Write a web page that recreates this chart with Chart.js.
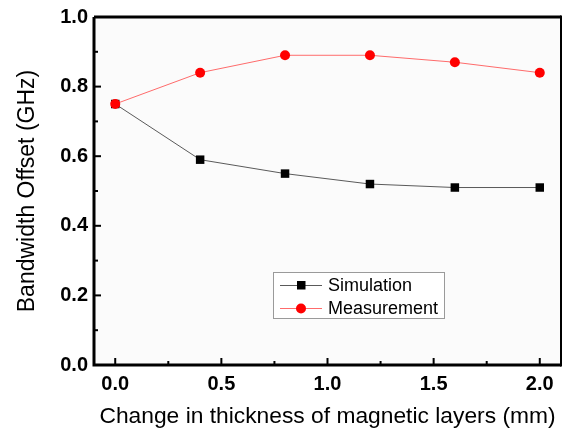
<!DOCTYPE html>
<html>
<head>
<meta charset="utf-8">
<script src="https://cdn.jsdelivr.net/npm/chart.js@4"></script>
<style>
html,body{margin:0;padding:0;background:#fff;}
#c{display:block;}
</style>
</head>
<body>
<canvas id="c" width="567" height="432"></canvas>
<script>
const xValues = [0.0, 0.4, 0.8, 1.2, 1.6, 2.0];
const simulation = [0.75, 0.59, 0.55, 0.52, 0.51, 0.51];
const measurement = [0.75, 0.84, 0.89, 0.89, 0.87, 0.84];
const xTickValues = [0.0, 0.5, 1.0, 1.5, 2.0];
const xMinorTicks = [0.25, 0.75, 1.25, 1.75];
const yTickValues = [0.0, 0.2, 0.4, 0.6, 0.8, 1.0];
const yMinorTicks = [0.1, 0.3, 0.5, 0.7, 0.9];
const seriesNames = ['Simulation', 'Measurement'];
const xTitle = 'Change in thickness of magnetic layers (mm)';
const yTitle = 'Bandwidth Offset (GHz)';

const FONT = '"Liberation Sans", Arial, sans-serif';

const framePlugin = {
  id: 'frame',
  beforeDatasetsDraw(chart) {
    const {ctx, chartArea: a} = chart;
    ctx.save();
    ctx.fillStyle = '#fbfbfb';
    ctx.fillRect(a.left, a.top, a.right - a.left, a.bottom - a.top);
    ctx.restore();
  },
  afterDraw(chart) {
    const {ctx, chartArea: a} = chart;
    const xs = chart.scales.x, ys = chart.scales.y;
    ctx.save();
    ctx.strokeStyle = '#000';
    ctx.lineCap = 'butt';
    ctx.lineWidth = 2;
    const tick = (px, len, vertical) => {
      ctx.beginPath();
      if (vertical) { ctx.moveTo(px, a.bottom); ctx.lineTo(px, a.bottom - len); }
      else { ctx.moveTo(a.left, px); ctx.lineTo(a.left + len, px); }
      ctx.stroke();
    };
    xTickValues.forEach(v => tick(xs.getPixelForValue(v), 7, true));
    xMinorTicks.forEach(v => tick(xs.getPixelForValue(v), 4, true));
    yTickValues.forEach(v => tick(ys.getPixelForValue(v), 7, false));
    yMinorTicks.forEach(v => tick(ys.getPixelForValue(v), 4, false));
    ctx.lineWidth = 3;
    ctx.beginPath();
    ctx.moveTo(a.left, a.top); ctx.lineTo(a.left, a.bottom); ctx.lineTo(a.right, a.bottom);
    ctx.stroke();
    ctx.beginPath();
    ctx.moveTo(a.left, a.top); ctx.lineTo(a.right, a.top);
    ctx.stroke();
    ctx.lineWidth = 2;
    ctx.beginPath();
    ctx.moveTo(a.right, a.top - 1.5); ctx.lineTo(a.right, a.bottom + 1.5);
    ctx.stroke();

    // legend
    const bx = 273, by = 272, bw = 171, bh = 46;
    ctx.fillStyle = '#fff';
    ctx.fillRect(bx, by, bw, bh);
    ctx.strokeStyle = '#9a9a9a';
    ctx.lineWidth = 1;
    ctx.strokeRect(bx + 0.5, by + 0.5, bw, bh);
    const rows = [285, 308];
    chart.data.datasets.forEach((ds, i) => {
      const y = rows[i];
      ctx.strokeStyle = ds.borderColor;
      ctx.lineWidth = 1;
      ctx.beginPath(); ctx.moveTo(280, y + 0.5); ctx.lineTo(322, y + 0.5); ctx.stroke();
      ctx.fillStyle = ds.pointBackgroundColor;
      if (ds.pointStyle === 'rect') {
        ctx.fillRect(297, y - 4, 8.5, 8.5);
      } else {
        ctx.beginPath(); ctx.arc(301, y + 0.5, 5, 0, Math.PI * 2); ctx.fill();
      }
      ctx.fillStyle = '#000';
      ctx.font = '18px ' + FONT;
      ctx.textBaseline = 'middle';
      ctx.textAlign = 'left';
      ctx.fillText(ds.label, 328, y + 1);
    });
    ctx.restore();
  }
};

new Chart(document.getElementById('c'), {
  type: 'line',
  data: {
    datasets: [
      {
        label: seriesNames[0],
        data: xValues.map((x, i) => ({x: x, y: simulation[i]})),
        borderColor: '#5a5a5a',
        borderWidth: 1,
        pointStyle: 'rect',
        pointRadius: 6,
        pointBackgroundColor: '#000000',
        pointBorderColor: '#000000',
        pointBorderWidth: 0,
        tension: 0,
        order: 2
      },
      {
        label: seriesNames[1],
        data: xValues.map((x, i) => ({x: x, y: measurement[i]})),
        borderColor: '#ff6b6b',
        borderWidth: 1,
        pointStyle: 'circle',
        pointRadius: 5,
        pointBackgroundColor: '#ff0000',
        pointBorderColor: '#ff0000',
        pointBorderWidth: 0,
        tension: 0,
        order: 1
      }
    ]
  },
  options: {
    responsive: false,
    animation: false,
    devicePixelRatio: 1,
    layout: {padding: {top: 17, right: -1, left: 0, bottom: 0}},
    plugins: {legend: {display: false}, tooltip: {enabled: false}},
    scales: {
      x: {
        type: 'linear',
        position: 'bottom',
        min: -0.1,
        max: 2.1,
        afterFit: s => { s.height = 67; s.paddingLeft = 0; s.paddingRight = 0; },
        afterBuildTicks: s => { s.ticks = xTickValues.map(v => ({value: v})); },
        grid: {display: false, drawTicks: false},
        border: {display: false},
        ticks: {
          color: '#000',
          padding: 7,
          font: {family: FONT, size: 20, weight: 'bold'},
          callback: v => Number(v).toFixed(1)
        },
        title: {
          display: true,
          text: xTitle,
          color: '#000',
          font: {family: FONT, size: 22.8},
          padding: {top: 0, bottom: 2}
        }
      },
      y: {
        type: 'linear',
        position: 'left',
        min: 0,
        max: 1,
        afterFit: s => { s.width = 94; s.paddingTop = 0; s.paddingBottom = 0; },
        afterBuildTicks: s => { s.ticks = yTickValues.map(v => ({value: v})); },
        grid: {display: false, drawTicks: false},
        border: {display: false},
        ticks: {
          color: '#000',
          padding: 6,
          font: {family: FONT, size: 20, weight: 'bold'},
          callback: v => Number(v).toFixed(1)
        },
        title: {
          display: true,
          text: yTitle,
          color: '#000',
          font: {family: FONT, size: 23},
          padding: {top: 14, bottom: 0}
        }
      }
    }
  },
  plugins: [framePlugin]
});
</script>
</body>
</html>
